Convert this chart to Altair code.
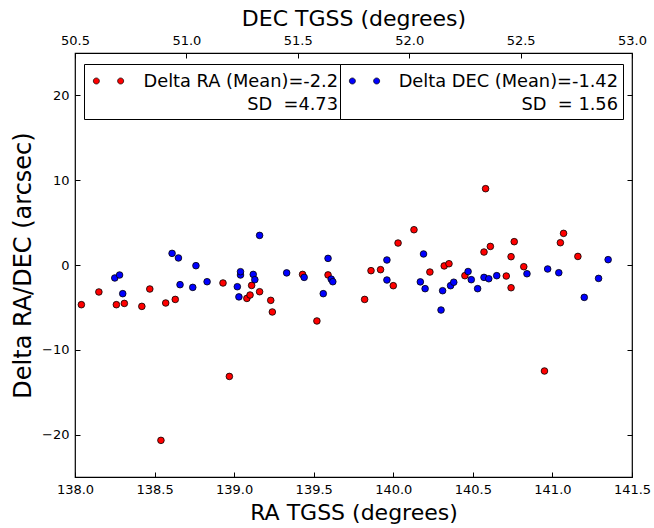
import altair as alt
import pandas as pd

# ---- data ----
ra_pos = [138.04, 138.15, 138.26, 138.31, 138.42, 138.47, 138.54, 138.57, 138.63, 138.93,
          138.97, 139.08, 139.10, 139.11, 139.16, 139.23, 139.24, 139.43, 139.52, 139.59,
          139.82, 139.86, 139.92, 140.00, 140.03, 140.13, 140.23, 140.32, 140.35, 140.45,
          140.57, 140.58, 140.61, 140.71, 140.74, 140.74, 140.76, 140.82, 140.95, 141.05,
          141.07, 141.16]
delta_ra = [-4.68, -3.18, -4.68, -4.53, -4.88, -2.83, -20.68, -4.48, -4.06, -2.12,
            -13.14, -3.94, -3.54, -2.41, -3.15, -4.17, -5.54, -1.11, -6.60, -1.17,
            -4.06, -0.67, -0.55, -2.44, 2.59, 4.16, -0.83, -0.11, 0.15, -1.26,
            1.53, 9.00, 2.19, -1.30, 0.98, -2.68, 2.75, -0.20, -12.50, 2.63,
            3.73, 1.01]

dec_pos = [138.25, 138.28, 138.30, 138.61, 138.65, 138.66, 138.74, 138.76, 138.83, 139.02,
           139.03, 139.04, 139.04, 139.12, 139.13, 139.16, 139.33, 139.44, 139.56, 139.59,
           139.61, 139.62, 139.96, 139.96, 140.17, 140.19, 140.20, 140.31, 140.30, 140.36,
           140.38, 140.47, 140.49, 140.53, 140.57, 140.60, 140.65, 140.84, 140.97, 141.04,
           141.20, 141.29, 141.35]
delta_dec = [-1.53, -1.18, -3.38, 1.37, 0.83, -2.32, -2.64, -0.08, -1.97, -2.56,
             -3.76, -1.18, -0.79, -1.11, -1.73, 3.49, -0.93, -1.46, -3.38, 0.78,
             -1.67, -1.97, 0.59, -1.77, -1.99, 1.30, -2.79, -3.03, -5.31, -2.44,
             -2.03, -0.77, -1.73, -2.79, -1.46, -1.62, -1.26, -1.03, -0.47, -0.91,
             -3.82, -1.58, 0.63]

ra_ticks = [138.0, 138.5, 139.0, 139.5, 140.0, 140.5, 141.0, 141.5]
dec_ticks = [50.5, 51.0, 51.5, 52.0, 52.5, 53.0]
y_ticks = [-20, -10, 0, 10, 20]

NB = "\u00a0"
ra_label = "Delta RA (Mean)=-2.2"
ra_sd = "SD" + NB + NB + "=4.73"
dec_label = "Delta DEC (Mean)=-1.42"
dec_sd = "SD" + NB + NB + "=" + NB + "1.56"

RED = "#ff0000"
BLUE = "#0000ff"

df_ra = pd.DataFrame({"ra": ra_pos, "delta": delta_ra, "series": ra_label})
df_dec = pd.DataFrame({"ra": dec_pos, "delta": delta_dec, "series": dec_label})
df_top = pd.DataFrame({"dec": dec_ticks, "zero": [0.0] * len(dec_ticks)})

xs = alt.Scale(domain=[138.0, 141.5], nice=False, zero=False)
ys = alt.Scale(domain=[-25, 25], nice=False, zero=False)
xs_top = alt.Scale(domain=[50.5, 53.0], nice=False, zero=False)

LH = 23.5
# two small dots side by side (legend marker, numpoints=2)
sh = -0.5 / 12
r = 0.25
two_dots = (f"M{-1-r:.3f},{sh:.3f} A{r},{r} 0 1,0 {-1+r:.3f},{sh:.3f} A{r},{r} 0 1,0 {-1-r:.3f},{sh:.3f} Z "
            f"M{1-r:.3f},{sh:.3f} A{r},{r} 0 1,0 {1+r:.3f},{sh:.3f} A{r},{r} 0 1,0 {1-r:.3f},{sh:.3f} Z")


def legend(x, sd, offset):
    return alt.Legend(
        title=None, orient="none", legendX=x, legendY=11, direction="vertical",
        symbolType=two_dots, symbolSize=590, symbolStrokeColor="black",
        symbolStrokeWidth=0.7, symbolOffset=7,
        labelExpr=f"[datum.label, '{sd}']", labelFont="DejaVu Sans", labelFontSize=17.8,
        labelColor="black", labelLimit=600, labelOffset=offset, labelAlign="right",
        strokeColor="black", fillColor="white", padding=5,
    )


pt = dict(filled=True, size=44, stroke="black", strokeWidth=0.8, opacity=1)

red = alt.Chart(df_ra).mark_point(**pt).encode(
    x=alt.X("ra:Q", scale=xs, axis=alt.Axis(
        orient="bottom", values=ra_ticks, format=".1f", title="RA TGSS (degrees)",
        tickSize=0, labelPadding=6, domain=False, labelFlush=False, labelOverlap=False,
        titlePadding=6)),
    y=alt.Y("delta:Q", scale=ys, axis=alt.Axis(
        orient="left", values=y_ticks, format="d", title="Delta RA/DEC (arcsec)",
        tickSize=0, labelPadding=6, domain=False, titlePadding=6, titleFontSize=24)),
    color=alt.Color("series:N", scale=alt.Scale(domain=[ra_label], range=[RED]),
                    legend=legend(9, ra_sd, 217)),
)

blue = alt.Chart(df_dec).mark_point(**pt).encode(
    x=alt.X("ra:Q", scale=xs, axis=alt.Axis(
        orient="bottom", values=ra_ticks, offset=-5, tickSize=5, labels=False,
        domain=False, title=None)),
    y=alt.Y("delta:Q", scale=ys, axis=alt.Axis(
        orient="left", values=y_ticks, offset=-5, tickSize=5, labels=False,
        domain=False, title=None)),
    color=alt.Color("series:N", scale=alt.Scale(domain=[dec_label], range=[BLUE]),
                    legend=legend(265, dec_sd, 241)),
)

top = alt.Chart(df_top).mark_point(opacity=0).encode(
    x=alt.X("dec:Q", scale=xs_top, axis=alt.Axis(
        orient="top", values=dec_ticks, format=".1f", title="DEC TGSS (degrees)",
        tickSize=0, labelPadding=6, domain=False, labelFlush=False, labelOverlap=False,
        titlePadding=4)),
    y=alt.Y("zero:Q", scale=ys, axis=alt.Axis(
        orient="right", values=y_ticks, offset=-5, tickSize=5, labels=False,
        domain=False, title=None)),
)

top_ticks = alt.Chart(df_top).mark_point(opacity=0).encode(
    x=alt.X("dec:Q", scale=xs_top, axis=alt.Axis(
        orient="top", values=dec_ticks, offset=-5, tickSize=5, labels=False,
        domain=False, title=None)),
    y=alt.Y("zero:Q", scale=ys, axis=None),
)

chart = alt.layer(red, blue, top, top_ticks).resolve_scale(
    x="independent", y="independent", color="independent"
).properties(
    width=557, height=424,
    padding={"left": 75, "top": 53, "right": 22, "bottom": 51},
    autosize=alt.AutoSizeParams(type="none"),
).configure(
    font="DejaVu Sans",
    style={"guide-label": {"lineHeight": LH}},
).configure_view(
    stroke="black", strokeWidth=1.2,
).configure_axis(
    grid=False, labelColor="black", tickColor="black", titleColor="black",
    labelFontSize=13, titleFontSize=22, titleFontWeight="normal",
    labelFont="DejaVu Sans", titleFont="DejaVu Sans", tickWidth=1,
).configure_legend(
    strokeWidth=1, cornerRadius=0,
)

chart.save("out.html", embed_options={"renderer": "svg", "actions": False})
